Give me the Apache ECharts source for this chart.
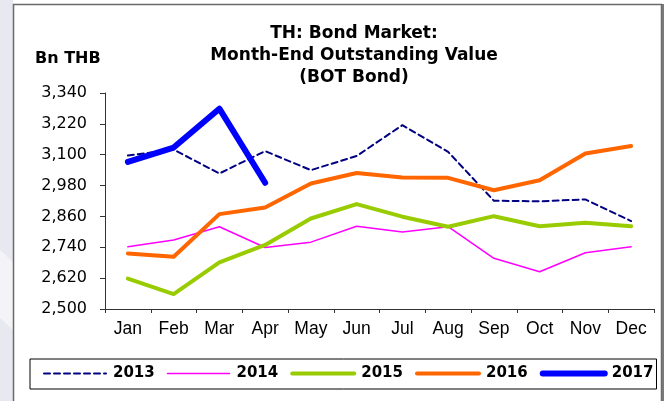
<!DOCTYPE html>
<html>
<head>
<meta charset="utf-8">
<script src="https://cdn.jsdelivr.net/npm/echarts@6/dist/echarts.min.js"></script>
<style>
  html, body { margin: 0; padding: 0; background: #ffffff; }
  #chart { width: 671px; height: 401px; }
</style>
</head>
<body>
<div id="chart"></div>
<script>
// Month-end outstanding value of BOT bonds, billion THB
const months = ['Jan', 'Feb', 'Mar', 'Apr', 'May', 'Jun', 'Jul', 'Aug', 'Sep', 'Oct', 'Nov', 'Dec'];
const y2013 = [3097, 3120, 3027, 3114, 3040, 3095, 3215, 3111, 2921, 2919, 2926, 2842];
const y2014 = [2742, 2768, 2820, 2739, 2760, 2822, 2799, 2820, 2697, 2645, 2719, 2742];
const y2015 = [2618, 2558, 2681, 2749, 2852, 2908, 2859, 2820, 2861, 2822, 2835, 2822];
const y2016 = [2716, 2703, 2869, 2895, 2988, 3029, 3011, 3010, 2962, 3001, 3105, 3134];
const y2017 = [3072, 3128, 3279, 2991];
const yTicks = [2500, 2620, 2740, 2860, 2980, 3100, 3220, 3340];

const WIDE = '"DejaVu Sans", sans-serif';
const ARIAL = '"Liberation Sans", Arial, sans-serif';

const chart = echarts.init(document.getElementById('chart'), null, { renderer: 'canvas' });

function line(name, data, color, width, type) {
  return {
    name: name,
    type: 'line',
    data: data,
    symbol: 'none',
    smooth: false,
    lineStyle: { color: color, width: width, type: type || 'solid', cap: 'round', join: 'round' },
    itemStyle: { color: color },
    emphasis: { disabled: true },
    animation: false
  };
}

chart.setOption({
  animation: false,
  backgroundColor: '#ffffff',
  graphic: [
    // lavender margin on the left
    { type: 'rect', left: 0, top: 0, shape: { width: 13, height: 401 }, style: { fill: '#e8e8f1' }, z: -10 },
    { type: 'polygon', shape: { points: [[0, 250], [13, 262], [13, 330], [0, 318]] }, style: { fill: '#f4f4f8' }, z: -9 },
    // frame around the chart
    { type: 'rect', shape: { x: 13.5, y: 4.5, width: 648, height: 410 }, style: { fill: 'none', stroke: '#6a6a6a', lineWidth: 1.5 }, z: -5 },
    { type: 'line', shape: { x1: 663, y1: 4, x2: 663, y2: 401 }, style: { stroke: '#7a7a7a', lineWidth: 2 }, z: -5 },
    // unit label
    { type: 'text', left: 35, top: 51, style: { text: 'Bn THB', font: 'bold 16px ' + WIDE, fill: '#000' } }
  ],
  title: {
    text: 'TH: Bond Market:\nMonth-End Outstanding Value\n(BOT Bond)',
    left: 349,
    top: 18,
    textAlign: 'center',
    textStyle: { fontFamily: WIDE, fontWeight: 'bold', fontSize: 17, lineHeight: 22, color: '#000' }
  },
  legend: {
    left: 30,
    top: 359,
    padding: [7, 3, 8, 13],
    borderColor: '#000',
    borderWidth: 1,
    itemWidth: 62,
    itemHeight: 14,
    itemGap: 12,
    itemStyle: { opacity: 0 },
    lineStyle: { width: 'inherit' },
    textStyle: { fontFamily: WIDE, fontWeight: 'bold', fontSize: 15, color: '#000', padding: [0, 0, 0, 2] },
    data: ['2013', '2014', '2015', '2016', '2017']
  },
  grid: { left: 105, right: 17, top: 93, bottom: 92, containLabel: false },
  xAxis: {
    type: 'category',
    data: months,
    boundaryGap: true,
    axisLine: { lineStyle: { color: '#333', width: 1 } },
    axisTick: { show: true, length: 4, inside: false, lineStyle: { color: '#333' } },
    axisLabel: { fontFamily: ARIAL, fontSize: 17.5, color: '#000', margin: 11 }
  },
  yAxis: {
    type: 'value',
    min: 2500,
    max: 3340,
    splitLine: { show: false },
    axisLine: { show: true, lineStyle: { color: '#333', width: 1 } },
    axisTick: { show: true, length: 5, lineStyle: { color: '#333' }, customValues: yTicks },
    axisLabel: {
      fontFamily: WIDE, fontSize: 16, color: '#000', margin: 18,
      customValues: yTicks,
      formatter: v => v.toLocaleString('en-US')
    }
  },
  series: [
    line('2013', y2013, '#000080', 2, [6, 4]),
    line('2014', y2014, '#ff00ff', 1.5),
    line('2015', y2015, '#99cc00', 4),
    line('2016', y2016, '#ff6600', 4),
    line('2017', y2017, '#0000ff', 6)
  ]
});
</script>
</body>
</html>
